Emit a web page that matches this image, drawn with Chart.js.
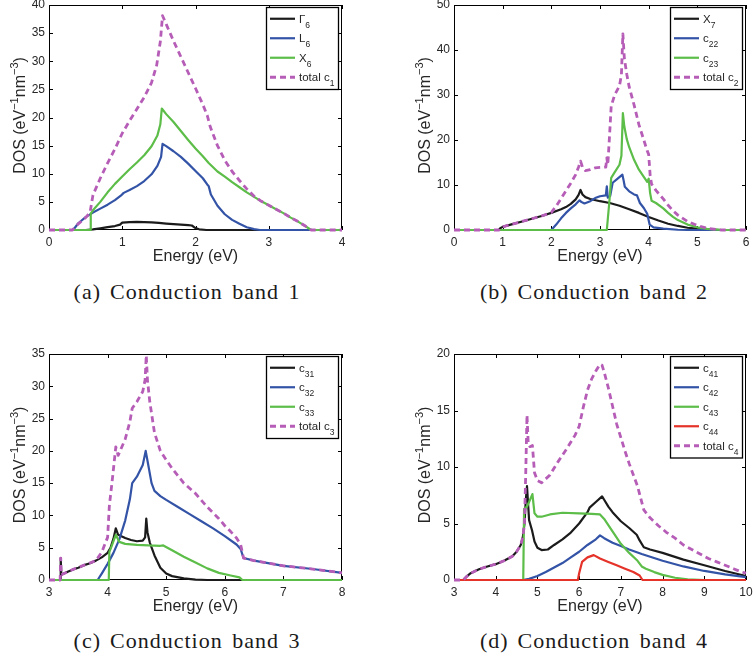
<!DOCTYPE html>
<html>
<head>
<meta charset="utf-8">
<script src="https://cdn.jsdelivr.net/npm/chart.js@4.4.1/dist/chart.umd.min.js"></script>
<style>
  body { margin: 0; background: #fff; }
  #page { position: relative; width: 755px; height: 659px; overflow: hidden; }
  .panel { position: absolute; }
  .caption {
    position: absolute;
    font-family: 'Liberation Serif', 'Times New Roman', serif;
    font-size: 22px;
    line-height: 24px;
    color: #1a1a1a;
    text-align: center;
    letter-spacing: 1px;
    word-spacing: 3px;
    white-space: nowrap;
  }
  .caption .tag { margin-right: 9px; }
</style>
</head>
<body>
<div id="page">
  <canvas id="band1" class="panel" width="377" height="266" style="left:0;top:0"></canvas>
  <canvas id="band2" class="panel" width="350" height="266" style="left:405px;top:0"></canvas>
  <canvas id="band3" class="panel" width="377" height="277" style="left:0;top:339px"></canvas>
  <canvas id="band4" class="panel" width="350" height="277" style="left:405px;top:339px"></canvas>

  <div class="caption" style="left:0;top:280px;width:374px"><span class="tag">(a)</span>Conduction band 1</div>
  <div class="caption" style="left:408px;top:280px;width:372px"><span class="tag">(b)</span>Conduction band 2</div>
  <div class="caption" style="left:0;top:629px;width:374px"><span class="tag">(c)</span>Conduction band 3</div>
  <div class="caption" style="left:408px;top:629px;width:372px"><span class="tag">(d)</span>Conduction band 4</div>
</div>
<script>
// [energy (eV), DOS (eV^-1 nm^-3)] pairs for every curve

// conduction band 1
const gamma6 = [[0,0],[0.5,0],[0.6,0.1],[0.7,0.3],[0.8,0.5],[0.9,0.7],[0.97,0.95],[1.0,1.3],[1.1,1.4],[1.2,1.45],[1.3,1.4],[1.4,1.35],[1.5,1.25],[1.6,1.15],[1.7,1.05],[1.8,0.95],[1.9,0.85],[1.95,0.8],[2.0,0.35],[2.05,0.12],[2.15,0],[4,0]];
const l6 = [[0,0],[0.33,0],[0.4,1.2],[0.5,2.3],[0.6,3.1],[0.7,3.8],[0.8,4.5],[0.9,5.3],[0.98,6.1],[1.02,6.6],[1.1,7.1],[1.2,7.8],[1.3,8.7],[1.4,9.9],[1.48,11.4],[1.53,13],[1.55,15.3],[1.6,14.9],[1.7,14.0],[1.8,13.0],[1.9,11.8],[2.0,10.5],[2.1,9.2],[2.16,8.1],[2.18,7.8],[2.21,6.3],[2.3,4.3],[2.4,2.8],[2.5,1.8],[2.6,1.1],[2.7,0.5],[2.8,0.15],[2.88,0],[4,0]];
const x6 = [[0,0],[0.56,0],[0.57,2.9],[0.6,3.5],[0.7,5.0],[0.8,6.7],[0.9,8.2],[1.0,9.5],[1.1,10.8],[1.2,12.0],[1.3,13.3],[1.4,14.9],[1.48,16.8],[1.52,18.8],[1.54,21.6],[1.6,20.6],[1.7,19.2],[1.8,17.6],[1.9,16.0],[2.0,14.5],[2.1,13.1],[2.18,11.9],[2.3,10.4],[2.4,9.5],[2.5,8.5],[2.6,7.6],[2.7,6.7],[2.8,5.9],[2.9,5.1],[3.0,4.4],[3.1,3.7],[3.2,3.0],[3.3,2.2],[3.4,1.5],[3.5,0.7],[3.58,0],[4,0]];
const totalC1 = [[0,0],[0.32,0],[0.4,1.1],[0.5,2.2],[0.56,3.1],[0.6,6.2],[0.7,9.2],[0.8,11.9],[0.9,14.4],[1.0,17.2],[1.1,19.4],[1.2,21.5],[1.3,23.6],[1.4,26.2],[1.47,29.3],[1.52,33.5],[1.55,38.1],[1.6,36.6],[1.7,33.6],[1.8,30.8],[1.9,28.0],[2.0,25.2],[2.1,22.3],[2.16,20.4],[2.2,18.4],[2.3,15.0],[2.4,12.4],[2.5,10.4],[2.6,8.8],[2.7,7.3],[2.8,6.0],[2.9,5.1],[3.0,4.4],[3.1,3.7],[3.2,3.0],[3.3,2.2],[3.4,1.5],[3.5,0.7],[3.58,0],[4,0]];

// conduction band 2
const x7 = [[0,0],[0.92,0],[0.95,0.4],[1.0,0.7],[1.2,1.3],[1.4,1.9],[1.6,2.5],[1.8,3.1],[2.0,3.8],[2.2,4.6],[2.3,5.1],[2.4,5.8],[2.5,6.8],[2.56,7.8],[2.6,8.9],[2.64,7.9],[2.7,7.3],[2.8,6.9],[3.0,6.4],[3.2,6.0],[3.4,5.4],[3.6,4.6],[3.8,3.8],[4.0,2.9],[4.2,2.1],[4.4,1.4],[4.6,0.9],[4.8,0.5],[5.0,0.3],[5.2,0.12],[5.4,0.03],[5.5,0],[6,0]];
const c22 = [[0,0],[2.0,0],[2.1,1.2],[2.2,2.6],[2.3,3.8],[2.4,4.8],[2.5,5.7],[2.58,6.6],[2.62,6.2],[2.68,5.9],[2.8,6.4],[2.9,7.1],[3.0,7.5],[3.12,7.7],[3.14,9.7],[3.16,7.2],[3.21,7.6],[3.26,10.5],[3.35,11.3],[3.46,12.3],[3.48,11.3],[3.51,9.6],[3.6,8.6],[3.7,7.9],[3.76,7.7],[3.82,6.0],[3.9,4.9],[3.97,3.6],[4.02,1.2],[4.1,0.6],[4.3,0.3],[4.6,0.06],[4.8,0],[6,0]];
const c23 = [[0,0],[3.14,0],[3.19,6.0],[3.23,11.6],[3.3,12.8],[3.4,14.5],[3.44,16.5],[3.47,26],[3.5,23],[3.55,20.2],[3.6,18.4],[3.7,15.6],[3.8,13.4],[3.9,11.8],[3.97,10.7],[4.0,11.4],[4.03,8.2],[4.06,6.5],[4.15,6.0],[4.3,4.8],[4.4,3.8],[4.5,2.9],[4.6,2.2],[4.8,1.2],[5.0,0.6],[5.2,0.25],[5.4,0.07],[5.5,0],[6,0]];
const totalC2 = [[0,0],[0.92,0],[0.95,0.4],[1.0,0.7],[1.2,1.3],[1.4,1.9],[1.6,2.5],[1.8,3.1],[2.0,3.9],[2.1,5.3],[2.2,7.0],[2.3,8.7],[2.4,10.4],[2.5,12.3],[2.56,14.0],[2.6,15.3],[2.64,14.0],[2.7,13.2],[2.8,13.4],[2.9,13.8],[3.0,13.9],[3.12,14.0],[3.14,16.0],[3.16,14.5],[3.19,19.8],[3.23,27.5],[3.3,30.0],[3.4,32.0],[3.44,34.5],[3.47,43.6],[3.5,38.2],[3.55,34.6],[3.6,31.8],[3.7,27.8],[3.8,23.4],[3.9,20.0],[3.97,17.6],[4.0,16.8],[4.03,12.2],[4.06,10.2],[4.15,8.8],[4.3,6.9],[4.4,5.5],[4.5,4.3],[4.6,3.3],[4.8,1.9],[5.0,1.0],[5.2,0.4],[5.4,0.1],[5.5,0],[6,0]];

// conduction band 3
const c31 = [[3,0],[3.19,0],[3.2,3.4],[3.21,0.8],[3.3,1.2],[3.4,1.6],[3.5,1.9],[3.6,2.3],[3.7,2.6],[3.8,3.0],[3.9,3.5],[4.0,4.2],[4.05,5.0],[4.1,6.4],[4.14,8.0],[4.18,7.0],[4.3,6.5],[4.4,6.2],[4.5,6.0],[4.6,6.1],[4.64,6.6],[4.66,9.5],[4.68,7.4],[4.72,5.8],[4.8,3.8],[4.9,1.9],[5.0,1.0],[5.1,0.6],[5.3,0.25],[5.5,0.06],[5.7,0],[8,0]];
const c32 = [[3,0],[3.83,0],[3.9,1.0],[4.0,2.5],[4.1,4.2],[4.2,6.3],[4.3,9.2],[4.38,12.5],[4.42,15.0],[4.5,16.0],[4.6,17.8],[4.65,20.0],[4.68,18.5],[4.75,15.0],[4.8,13.8],[4.9,13.0],[5.0,12.4],[5.2,11.3],[5.4,10.2],[5.6,9.1],[5.8,8.0],[6.0,6.8],[6.2,5.5],[6.27,4.8],[6.32,3.4],[6.5,3.0],[7.0,2.2],[7.5,1.7],[8.0,1.1]];
const c33 = [[3,0],[4.02,0],[4.03,4.3],[4.08,5.5],[4.14,7.0],[4.2,5.9],[4.3,5.6],[4.5,5.45],[4.7,5.35],[4.9,5.3],[4.95,5.35],[5.1,4.6],[5.3,3.6],[5.5,2.7],[5.7,1.8],[5.9,1.1],[6.1,0.7],[6.25,0.4],[6.3,0],[8,0]];
const totalC3 = [[3,0],[3.19,0],[3.2,3.4],[3.21,0.8],[3.4,1.6],[3.6,2.3],[3.8,3.0],[3.9,4.3],[4.0,6.6],[4.03,11.5],[4.08,15.5],[4.14,20.6],[4.18,19.3],[4.3,21.8],[4.38,24.5],[4.42,26.6],[4.5,27.6],[4.6,29.2],[4.64,31.0],[4.66,34.8],[4.68,31.0],[4.72,27.6],[4.8,22.8],[4.9,20.0],[5.0,18.6],[5.1,17.3],[5.3,15.0],[5.5,13.4],[5.7,11.3],[5.9,9.5],[6.0,8.4],[6.1,7.5],[6.2,6.5],[6.27,5.5],[6.32,3.4],[6.5,3.0],[7.0,2.2],[7.5,1.7],[8.0,1.1]];

// conduction band 4
const c41 = [[3,0],[3.22,0],[3.3,0.3],[3.4,0.6],[3.6,0.95],[3.8,1.2],[4.0,1.4],[4.2,1.7],[4.4,2.1],[4.5,2.5],[4.6,3.1],[4.65,3.8],[4.69,5.0],[4.72,7.0],[4.75,8.3],[4.78,6.5],[4.8,5.3],[4.87,4.4],[4.93,3.4],[5.0,2.85],[5.1,2.65],[5.25,2.7],[5.4,3.1],[5.6,3.6],[5.8,4.2],[6.0,5.0],[6.2,6.0],[6.25,6.4],[6.4,6.9],[6.55,7.4],[6.6,7.1],[6.7,6.5],[6.8,6.0],[7.0,5.2],[7.2,4.6],[7.38,4.0],[7.45,3.5],[7.55,2.9],[7.7,2.7],[8.0,2.4],[8.5,1.8],[9.0,1.3],[9.5,0.8],[10,0.35]];
const c42 = [[3,0],[4.65,0],[4.8,0.1],[5.0,0.35],[5.2,0.7],[5.4,1.1],[5.6,1.5],[5.8,2.0],[6.0,2.5],[6.2,3.1],[6.4,3.6],[6.5,3.95],[6.6,3.7],[6.8,3.3],[7.0,3.0],[7.2,2.7],[7.5,2.3],[8.0,1.7],[8.5,1.2],[9.0,0.8],[9.5,0.5],[10,0.25]];
const c43 = [[3,0],[4.66,0],[4.68,6.3],[4.75,6.5],[4.8,6.9],[4.88,7.6],[4.93,5.9],[5.0,5.6],[5.1,5.6],[5.3,5.8],[5.6,5.95],[6.0,5.9],[6.3,5.85],[6.5,5.8],[6.6,5.4],[6.8,4.3],[7.0,3.2],[7.2,2.4],[7.4,1.7],[7.5,1.2],[7.6,1.0],[7.8,0.7],[8.0,0.45],[8.3,0.2],[8.6,0.05],[9.0,0],[10,0]];
const c44 = [[3,0],[5.97,0],[6.0,0.6],[6.07,1.6],[6.2,2.0],[6.35,2.2],[6.5,1.9],[6.7,1.6],[6.9,1.3],[7.1,1.0],[7.3,0.7],[7.45,0.4],[7.52,0],[10,0]];
const totalC4 = [[3,0],[3.22,0],[3.3,0.3],[3.4,0.6],[3.6,0.95],[3.8,1.2],[4.0,1.4],[4.2,1.7],[4.4,2.1],[4.5,2.5],[4.6,3.1],[4.65,3.8],[4.69,5.0],[4.72,9.5],[4.75,14.6],[4.78,12.0],[4.82,11.8],[4.88,11.9],[4.93,9.5],[5.0,8.8],[5.1,8.6],[5.3,9.3],[5.5,10.5],[5.7,11.6],[5.9,12.8],[6.0,13.6],[6.1,15.3],[6.2,16.8],[6.3,17.8],[6.4,18.5],[6.5,19.1],[6.55,19.0],[6.6,18.4],[6.7,17.0],[6.8,15.4],[6.9,13.8],[7.0,12.6],[7.1,11.4],[7.2,10.3],[7.3,9.3],[7.4,8.3],[7.45,7.6],[7.55,6.2],[7.7,5.5],[7.9,4.8],[8.1,4.2],[8.3,3.7],[8.5,3.1],[8.7,2.7],[8.9,2.3],[9.1,1.9],[9.3,1.6],[9.5,1.3],[9.7,1.0],[9.9,0.7],[10,0.6]];

const COLORS = {
  black: '#1b1b1b',
  blue: '#3353a6',
  green: '#5cbd48',
  red: '#e5332a',
  total: '#b65db7'
};
const SANS = "'Liberation Sans', Arial, sans-serif";
const TEXT = '#262626';

const Y_TITLE = [
  { text: 'DOS (eV', size: 16 },
  { text: '\u22121', size: 11, dy: -7 },
  { text: 'nm', size: 16 },
  { text: '\u22123', size: 11, dy: -7 },
  { text: ')', size: 16 }
];

function richWidth(ctx, parts) {
  let w = 0;
  parts.forEach(p => {
    ctx.font = p.size + 'px ' + SANS;
    w += ctx.measureText(p.text).width;
  });
  return w;
}

function drawRich(ctx, parts, x, y) {
  let cx = x;
  parts.forEach(p => {
    ctx.font = p.size + 'px ' + SANS;
    ctx.fillText(p.text, cx, y + (p.dy || 0));
    cx += ctx.measureText(p.text).width;
  });
}

// box, inward ticks on all four sides, boxed legend and the DOS axis title
const decor = {
  id: 'decor',
  beforeDatasetsDraw(chart) {
    const { ctx, chartArea: a, scales: { x, y } } = chart;
    ctx.save();
    ctx.strokeStyle = '#000';
    ctx.lineWidth = 1;
    ctx.strokeRect(a.left + 0.5, a.top + 0.5, a.right - a.left - 1, a.bottom - a.top - 1);
    ctx.beginPath();
    x.ticks.forEach(t => {
      const px = Math.round(x.getPixelForValue(t.value)) + 0.5;
      ctx.moveTo(px, a.bottom); ctx.lineTo(px, a.bottom - 4);
      ctx.moveTo(px, a.top); ctx.lineTo(px, a.top + 4);
    });
    y.ticks.forEach(t => {
      const py = Math.round(y.getPixelForValue(t.value)) + 0.5;
      ctx.moveTo(a.left, py); ctx.lineTo(a.left + 4, py);
      ctx.moveTo(a.right, py); ctx.lineTo(a.right - 4, py);
    });
    ctx.stroke();
    ctx.restore();
  },
  afterDatasetsDraw(chart) {
    const { ctx, chartArea: a } = chart;
    const items = chart.data.datasets;

    // legend
    const rowH = 19.5;
    const w = 72, h = items.length * rowH + 4;
    const left = a.right - 4 - w, top = a.top + 2;
    ctx.save();
    ctx.fillStyle = '#fff';
    ctx.fillRect(left, top, w, h);
    ctx.strokeStyle = '#000';
    ctx.lineWidth = 1.3;
    ctx.strokeRect(left + 0.5, top + 0.5, w, h);
    items.forEach((ds, i) => {
      const cy = top + 2 + rowH * (i + 0.5);
      ctx.beginPath();
      ctx.setLineDash(ds.borderDash);
      ctx.strokeStyle = ds.borderColor;
      ctx.lineWidth = ds.borderWidth;
      ctx.moveTo(left + 4, cy);
      ctx.lineTo(left + 29, cy);
      ctx.stroke();
      ctx.setLineDash([]);
      ctx.fillStyle = TEXT;
      ctx.textBaseline = 'alphabetic';
      ctx.textAlign = 'left';
      drawRich(ctx, [
        { text: ds.name[0], size: 11.5 },
        { text: ds.name[1], size: 8.5, dy: 5 }
      ], left + 33, cy + 4);
    });

    // y axis title with superscripts
    ctx.translate(a.left - 24, (a.top + a.bottom) / 2 - 2);
    ctx.rotate(-Math.PI / 2);
    ctx.fillStyle = TEXT;
    ctx.textAlign = 'left';
    drawRich(ctx, Y_TITLE, -richWidth(ctx, Y_TITLE) / 2, 0);
    ctx.restore();
  }
};

function makePanel(id, cfg) {
  const n = cfg.series.length;
  const datasets = cfg.series.map((s, i) => ({
    label: s.name.join(''),
    name: s.name,
    data: s.data.map(([e, d]) => ({ x: e, y: d })),
    borderColor: COLORS[s.color],
    borderWidth: s.dashed ? 2.8 : 2.2,
    borderDash: s.dashed ? [6, 4] : [],
    borderJoinStyle: 'round',
    pointRadius: 0,
    tension: 0,
    fill: false,
    clip: 3,
    order: n - i
  }));

  new Chart(document.getElementById(id), {
    type: 'line',
    data: { datasets },
    options: {
      responsive: false,
      animation: false,
      layout: { padding: { left: 0, top: cfg.padTop, right: cfg.padRight, bottom: 0 } },
      plugins: { legend: { display: false }, tooltip: { enabled: false } },
      scales: {
        x: {
          type: 'linear',
          min: cfg.xMin,
          max: cfg.xMax,
          ticks: { stepSize: 1, padding: 5, color: TEXT, font: { family: SANS, size: 12 } },
          grid: { display: false, drawTicks: false },
          border: { display: false },
          title: {
            display: true,
            text: 'Energy (eV)',
            color: TEXT,
            font: { family: SANS, size: 16 },
            padding: { top: 0, bottom: 0 }
          },
          afterFit(s) { s.height = 36; s.paddingLeft = 0; s.paddingRight = 0; }
        },
        y: {
          type: 'linear',
          min: 0,
          max: cfg.yMax,
          ticks: { stepSize: cfg.yStep, padding: 4, color: TEXT, font: { family: SANS, size: 12 } },
          grid: { display: false, drawTicks: false },
          border: { display: false },
          afterFit(s) { s.width = 49; s.paddingTop = 0; s.paddingBottom = 0; }
        }
      }
    },
    plugins: [decor]
  });
}

makePanel('band1', {
  xMin: 0, xMax: 4, yMax: 40, yStep: 5, padTop: 5, padRight: 35,
  series: [
    { name: ['\u0393', '6'], data: gamma6, color: 'black' },
    { name: ['L', '6'], data: l6, color: 'blue' },
    { name: ['X', '6'], data: x6, color: 'green' },
    { name: ['total c', '1'], data: totalC1, color: 'total', dashed: true }
  ]
});

makePanel('band2', {
  xMin: 0, xMax: 6, yMax: 50, yStep: 10, padTop: 5, padRight: 9,
  series: [
    { name: ['X', '7'], data: x7, color: 'black' },
    { name: ['c', '22'], data: c22, color: 'blue' },
    { name: ['c', '23'], data: c23, color: 'green' },
    { name: ['total c', '2'], data: totalC2, color: 'total', dashed: true }
  ]
});

makePanel('band3', {
  xMin: 3, xMax: 8, yMax: 35, yStep: 5, padTop: 15, padRight: 35,
  series: [
    { name: ['c', '31'], data: c31, color: 'black' },
    { name: ['c', '32'], data: c32, color: 'blue' },
    { name: ['c', '33'], data: c33, color: 'green' },
    { name: ['total c', '3'], data: totalC3, color: 'total', dashed: true }
  ]
});

makePanel('band4', {
  xMin: 3, xMax: 10, yMax: 20, yStep: 5, padTop: 15, padRight: 9,
  series: [
    { name: ['c', '41'], data: c41, color: 'black' },
    { name: ['c', '42'], data: c42, color: 'blue' },
    { name: ['c', '43'], data: c43, color: 'green' },
    { name: ['c', '44'], data: c44, color: 'red' },
    { name: ['total c', '4'], data: totalC4, color: 'total', dashed: true }
  ]
});
</script>
</body>
</html>
